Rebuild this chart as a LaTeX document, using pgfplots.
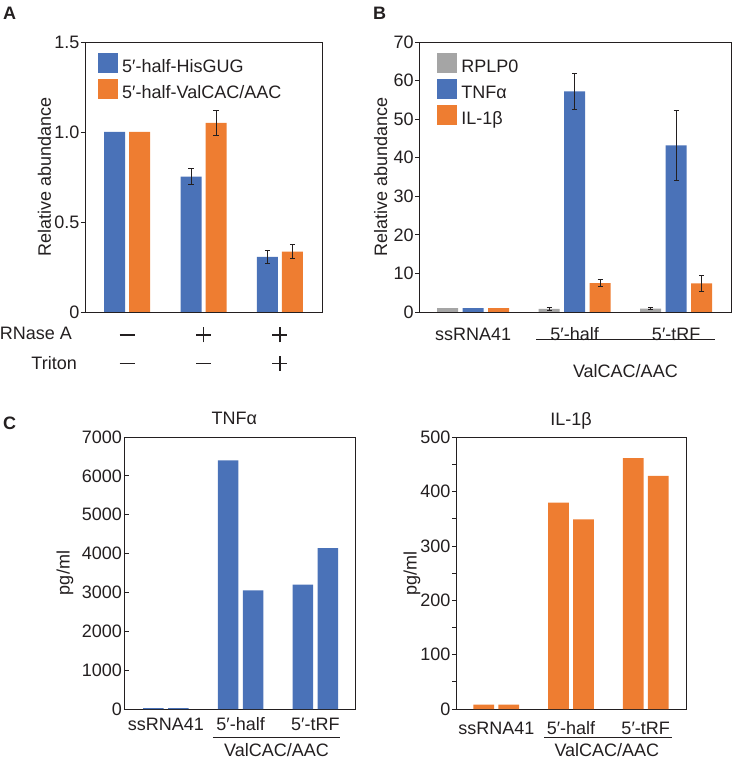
\documentclass[border=0pt]{standalone}
\usepackage{pgfplots}
\pgfplotsset{compat=1.18}
\usepackage{fontspec}
\setmainfont{Liberation Sans}
\definecolor{cblue}{HTML}{4A72B8}
\definecolor{corange}{HTML}{EE7D31}
\definecolor{cgray}{HTML}{A5A5A5}
\definecolor{ink}{HTML}{231F20}
\newcommand{\fs}{\fontsize{18bp}{21bp}\selectfont}
\newcommand{\mn}[2]{\draw[line width=1.2bp, draw=ink] ([xshift=-7.5bp,yshift=#2]axis cs:#1,0) -- ([xshift=7.5bp,yshift=#2]axis cs:#1,0);}
\newcommand{\pl}[2]{\draw[line width=1.2bp, draw=ink] ([xshift=-7.5bp,yshift=#2]axis cs:#1,0) -- ([xshift=7.5bp,yshift=#2]axis cs:#1,0); \draw[line width=1.2bp, draw=ink] ([yshift=#2-7.5bp]axis cs:#1,0) -- ([yshift=#2+7.5bp]axis cs:#1,0);}

\pgfplotsset{
  sq/.style={legend image code/.code={\fill[##1,draw=none] (0bp,-7.5bp) rectangle (20bp,12.5bp);}},
  errb/.style={forget plot, fill=none, draw=none,
    error bars/y dir=both, error bars/y explicit,
    error bars/error bar style={line width=1bp, draw=ink, solid},
    error bars/error mark options={rotate=90, mark size=2.6bp, line width=1bp, draw=ink, solid}},
  base/.style={
    scale only axis, anchor=south west, clip=false,
    axis line style={line width=0.9bp, draw=ink},
    tick align=outside, ytick pos=left,
    xtick style={draw=none}, ytick style={line width=0.8bp, draw=ink},
    major tick length=4bp, minor tick length=4bp,
    ymin=0, xtick={0,1,2},
    tick label style={font=\fs, text=ink},
    yticklabel style={inner sep=1.5bp},
    ylabel style={font=\fs, text=ink},
    ybar,
    legend cell align=left,
    legend style={draw=none, fill=none, inner sep=0pt, font=\fs, text=ink,
      row sep=6bp, column sep=3bp,
      nodes={inner sep=1bp, text height=13bp, text depth=0bp}},
  },
}

\begin{document}
\begin{tikzpicture}
\useasboundingbox (0,0) rectangle (733bp,759bp);

% ---------------- Panel A ----------------
\begin{axis}[base, at={(85bp,447bp)}, width=237bp, height=270bp,
  xmin=-0.55, xmax=2.55, ymax=1.5, bar width=21bp,
  xtick=\empty,
  ytick={0,0.5,1,1.5}, yticklabels={0,0.5,1.0,1.5},
  ylabel={Relative abundance},
  ylabel style={at={(axis description cs:-0.171,0.5)}, anchor=center},
  legend style={at={(axis description cs:0.055,0.959)}, anchor=north west}]
\addplot[sq, fill=cblue, draw=none, bar shift=-12.5bp] coordinates {(0,1) (1,0.752) (2,0.306)};
\addlegendentry{5′-half-HisGUG}
\addplot[sq, fill=corange, draw=none, bar shift=12.5bp] coordinates {(0,1) (1,1.05) (2,0.335)};
\addlegendentry{5′-half-ValCAC/AAC}
\addplot[bar shift=-12.5bp, errb] coordinates {(1,0.752) +- (0,0.045) (2,0.306) +- (0,0.035)};
\addplot[bar shift=12.5bp, errb] coordinates {(1,1.05) +- (0,0.072) (2,0.335) +- (0,0.038)};
\node[anchor=base east, font=\fs, text=ink, inner sep=0pt] at ([xshift=-13bp,yshift=-28bp]rel axis cs:0,0) {RNase A};
\node[anchor=base east, font=\fs, text=ink, inner sep=0pt] at ([xshift=-8bp,yshift=-58bp]rel axis cs:0,0) {Triton};
\mn{0}{-23bp}
\pl{1}{-23bp}
\pl{2}{-23bp}
\mn{0}{-51.5bp}
\mn{1}{-51.5bp}
\pl{2}{-51.5bp}
\end{axis}

% ---------------- Panel B ----------------
\begin{axis}[base, at={(419.3bp,447bp)}, width=311.7bp, height=270bp,
  xmin=-0.53, xmax=2.54, ymax=70, bar width=21bp,
  ytick={0,10,...,70}, yticklabels={0,10,20,30,40,50,60,70},
  xticklabels={ssRNA41,5′-half,5′-tRF},
  xticklabel style={anchor=base, yshift=-25bp},
  ylabel={Relative abundance},
  ylabel style={at={(axis description cs:-0.124,0.5)}, anchor=center},
  legend style={at={(axis description cs:0.057,0.959)}, anchor=north west}]
\addplot[sq, fill=cgray, draw=none, bar shift=-25.5bp] coordinates {(0,1) (1,0.8) (2,0.9)};
\addlegendentry{RPLP0}
\addplot[sq, fill=cblue, draw=none, bar shift=0bp] coordinates {(0,1) (1,57.2) (2,43.2)};
\addlegendentry{TNFα}
\addplot[sq, fill=corange, draw=none, bar shift=25.5bp] coordinates {(0,1) (1,7.5) (2,7.4)};
\addlegendentry{IL-1β}
\addplot[bar shift=-25.5bp, errb] coordinates {(1,0.8) +- (0,0.3) (2,0.9) +- (0,0.25)};
\addplot[bar shift=0bp, errb] coordinates {(1,57.2) +- (0,4.7) (2,43.2) +- (0,9.0)};
\addplot[bar shift=25.5bp, errb] coordinates {(1,7.5) +- (0,0.95) (2,7.4) +- (0,2.0)};
\draw[line width=1bp, draw=ink] ([yshift=-28bp]axis cs:0.62,0) -- ([yshift=-28bp]axis cs:2.38,0);
\node[anchor=base, font=\fs, text=ink, inner sep=0pt] at ([yshift=-66bp]axis cs:1.5,0) {ValCAC/AAC};
\end{axis}

% ---------------- Panel C left ----------------
\begin{axis}[base, at={(124bp,50bp)}, width=231bp, height=272bp,
  xmin=-0.56, xmax=2.53, ymax=7000, bar width=20.7bp,
  tick align=inside, major tick length=5bp,
  ytick={0,1000,...,7000}, yticklabels={0,1000,2000,3000,4000,5000,6000,7000},
  yticklabel style={inner sep=2bp},
  xticklabels={ssRNA41,5′-half,5′-tRF},
  xticklabel style={anchor=base, yshift=-21bp},
  ylabel={pg/ml},
  ylabel style={at={(axis description cs:-0.255,0.5)}, anchor=center},
  title={TNFα},
  title style={font=\fs, text=ink, at={(axis description cs:0.478,1)}, anchor=base, yshift=7bp}]
\addplot[fill=cblue, draw=none, bar shift=-12.5bp] coordinates {(0,25) (1,6400) (2,3200)};
\addplot[fill=cblue, draw=none, bar shift=12.5bp] coordinates {(0,25) (1,3050) (2,4140)};
\draw[line width=1bp, draw=ink] ([yshift=-28bp]axis cs:0.63,0) -- ([yshift=-28bp]axis cs:2.33,0);
\node[anchor=base, font=\fs, text=ink, inner sep=0pt] at ([yshift=-47bp]axis cs:1.48,0) {ValCAC/AAC};
\end{axis}

% ---------------- Panel C right ----------------
\begin{axis}[base, at={(456bp,50bp)}, width=230bp, height=271.6bp,
  xmin=-0.54, xmax=2.54, ymax=500, bar width=20.7bp,
  ytick={0,100,...,500}, yticklabels={0,100,200,300,400,500},
  minor ytick={50,150,250,350,450},
  xticklabels={ssRNA41,5′-half,5′-tRF},
  xticklabel style={anchor=base, yshift=-21bp},
  ylabel={pg/ml},
  ylabel style={at={(axis description cs:-0.191,0.5)}, anchor=center},
  title={IL-1β},
  title style={font=\fs, text=ink, at={(axis description cs:0.5,1)}, anchor=base, yshift=6bp}]
\addplot[fill=corange, draw=none, bar shift=-12.5bp] coordinates {(0,8) (1,380) (2,462)};
\addplot[fill=corange, draw=none, bar shift=12.5bp] coordinates {(0,8) (1,349) (2,429)};
\draw[line width=1bp, draw=ink] ([yshift=-28bp]axis cs:0.64,0) -- ([yshift=-28bp]axis cs:2.35,0);
\node[anchor=base, font=\fs, text=ink, inner sep=0pt] at ([yshift=-47bp]axis cs:1.48,0) {ValCAC/AAC};
\end{axis}

% panel letters
\node[anchor=base west, inner sep=0pt, font=\fs\bfseries, text=ink] at (3bp,739bp) {A};
\node[anchor=base west, inner sep=0pt, font=\fs\bfseries, text=ink] at (373bp,739bp) {B};
\node[anchor=base west, inner sep=0pt, font=\fs\bfseries, text=ink] at (3bp,329bp) {C};
\end{tikzpicture}
\end{document}
